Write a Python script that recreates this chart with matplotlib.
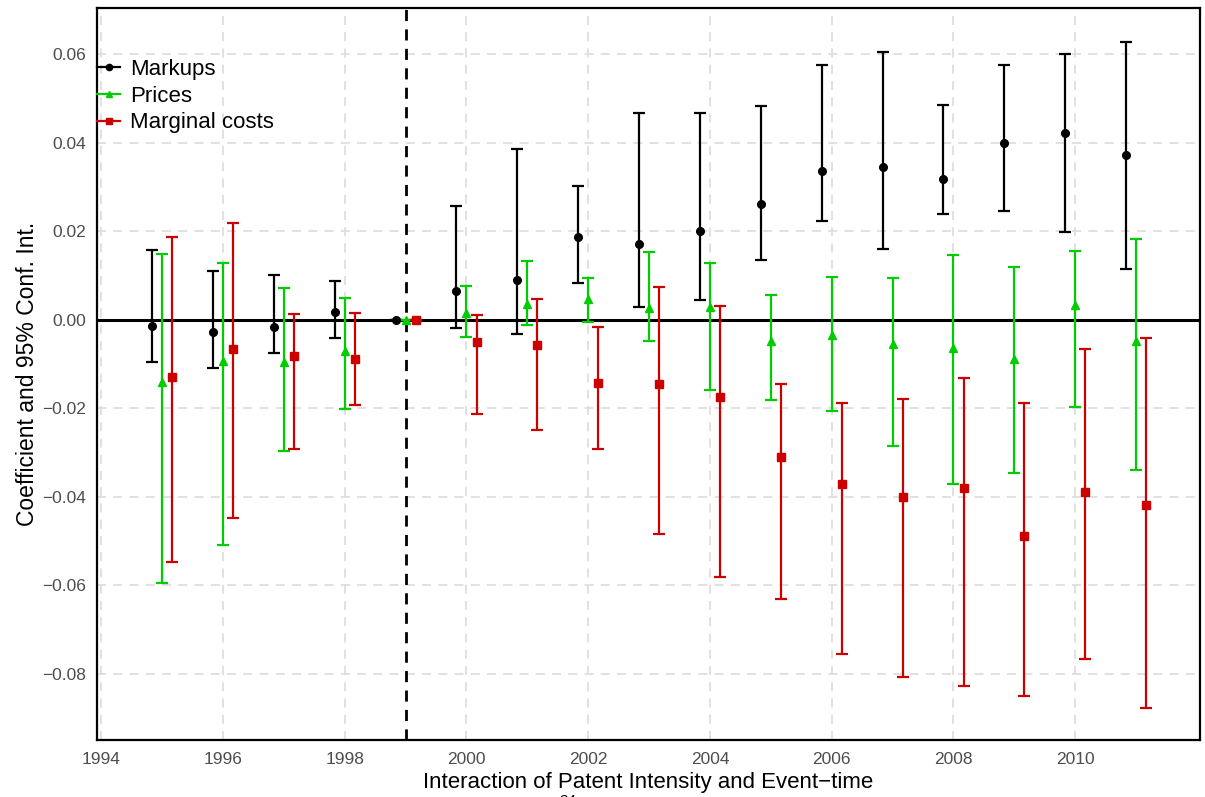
import matplotlib
matplotlib.use("Agg")
import matplotlib.pyplot as plt
import numpy as np

plt.rcParams['font.family'] = ['Liberation Sans', 'DejaVu Sans']

years = [1995, 1996, 1997, 1998, 1999, 2000, 2001, 2002, 2003, 2004, 2005,
         2006, 2007, 2008, 2009, 2010, 2011]

mk_est = [-0.0014, -0.0027, -0.0017, 0.0017, 0.0, 0.0066, 0.0089, 0.0188, 0.0170,
          0.0200, 0.0261, 0.0337, 0.0345, 0.0318, 0.0399, 0.0421, 0.0372]
mk_lo = [-0.0095, -0.0110, -0.0076, -0.0041, 0.0, -0.0019, -0.0032, 0.0084, 0.0029,
         0.0044, 0.0134, 0.0222, 0.0159, 0.0238, 0.0246, 0.0199, 0.0115]
mk_hi = [0.0157, 0.0110, 0.0101, 0.0087, 0.0, 0.0257, 0.0385, 0.0302, 0.0467,
         0.0468, 0.0482, 0.0576, 0.0605, 0.0484, 0.0575, 0.0601, 0.0627]

pr_est = [-0.0141, -0.0094, -0.0096, -0.0071, 0.0, 0.0015, 0.0036, 0.0047, 0.0026,
          0.0029, -0.0047, -0.0035, -0.0055, -0.0063, -0.0088, 0.0033, -0.0048]
pr_lo = [-0.0594, -0.0508, -0.0296, -0.0201, 0.0, -0.0038, -0.0012, -0.0005, -0.0047,
         -0.0159, -0.0181, -0.0205, -0.0286, -0.0372, -0.0345, -0.0196, -0.0339]
pr_hi = [0.0148, 0.0129, 0.0072, 0.0049, 0.0, 0.0076, 0.0133, 0.0095, 0.0152,
         0.0129, 0.0056, 0.0097, 0.0094, 0.0146, 0.0120, 0.0156, 0.0182]

mc_est = [-0.0129, -0.0067, -0.0081, -0.0088, 0.0, -0.0051, -0.0056, -0.0142, -0.0145,
          -0.0174, -0.0309, -0.0372, -0.0401, -0.0381, -0.0488, -0.0390, -0.0419]
mc_lo = [-0.0548, -0.0448, -0.0292, -0.0193, 0.0, -0.0212, -0.0250, -0.0292, -0.0484,
         -0.0581, -0.0630, -0.0755, -0.0806, -0.0828, -0.0850, -0.0767, -0.0877]
mc_hi = [0.0187, 0.0218, 0.0014, 0.0016, 0.0, 0.0011, 0.0047, -0.0017, 0.0075,
         0.0032, -0.0145, -0.0187, -0.0180, -0.0132, -0.0187, -0.0066, -0.0041]

x_ticks = [1994, 1996, 1998, 2000, 2002, 2004, 2006, 2008, 2010]
y_ticks = [-0.08, -0.06, -0.04, -0.02, 0.00, 0.02, 0.04, 0.06]

series = [
    ("Markups", mk_est, mk_lo, mk_hi, "black", "o", 5.5, -0.165),
    ("Prices", pr_est, pr_lo, pr_hi, "#00CD00", "^", 6, 0.0),
    ("Marginal costs", mc_est, mc_lo, mc_hi, "#CD0000", "s", 5.5, 0.165),
]

fig = plt.figure(figsize=(12.05, 7.97), dpi=100)
ax = fig.add_axes([97/1205, 1 - 740/797, (1200-97)/1205, (740-8)/797])

ax.set_xlim(1993.93, 2012.05)
ax.set_ylim(-0.0949, 0.0704)

ax.set_xticks(x_ticks)
ax.set_yticks(y_ticks)
ax.set_yticklabels([("%.2f" % v).replace("-", "\u2212") for v in y_ticks])
ax.grid(True, color="#dedede", linestyle=(0, (5, 4)), linewidth=1.3)
ax.set_axisbelow(True)
ax.tick_params(length=0, labelsize=12.5, labelcolor="#4d4d4d")
ax.tick_params(axis="x", pad=8.5)
ax.tick_params(axis="y", pad=8)

ax.axhline(0, color="black", linewidth=2.2, zorder=2)
ax.axvline(1999.0, color="black", linewidth=2.0, linestyle=(0, (4, 3)), zorder=2)

yrs = np.array(years, dtype=float)
handles = []
for name, est, lo, hi, col, mk, ms, off in series:
    est = np.array(est); lo = np.array(lo); hi = np.array(hi)
    err = np.vstack([est - lo, hi - est])
    ax.errorbar(yrs + off, est, yerr=err, fmt="none", ecolor=col,
                elinewidth=1.6, capsize=4, capthick=1.6, zorder=3)
    ax.plot(yrs + off, est, linestyle="none", marker=mk, color=col,
            markersize=ms, zorder=4)
    h, = ax.plot([], [], color=col, marker=mk, markersize=ms - 1, linewidth=1.6,
                 label=name)
    handles.append(h)

leg = ax.legend(handles=handles, loc="upper left", frameon=False, fontsize=16,
                handlelength=1.05, handletextpad=0.45, labelspacing=0.25,
                borderaxespad=0.0, borderpad=0.0, bbox_to_anchor=(0.0, 0.930))

for s in ax.spines.values():
    s.set_color("black")
    s.set_linewidth(1.6)

ax.set_xlabel("Interaction of Patent Intensity and Event\u2212time", fontsize=16,
              labelpad=3.5)
ax.set_ylabel("Coefficient and 95% Conf. Int.", fontsize=16.5, labelpad=2)

fig.text(568/1205, 3/797, "24", fontsize=11, ha="center", va="top")

fig.savefig("out.png", dpi=100)
